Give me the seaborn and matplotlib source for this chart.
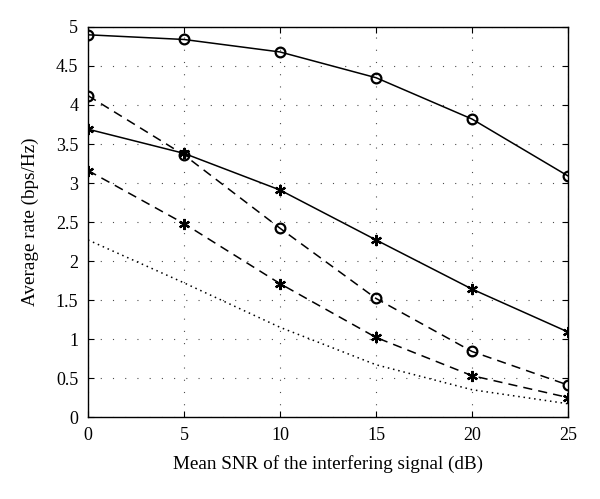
import matplotlib
matplotlib.use("Agg")
import matplotlib.pyplot as plt
import seaborn as sns
import pandas as pd

# Mean SNR of the interfering signal (dB)
snr = [0, 5, 10, 15, 20, 25]

# average rates (bps/Hz)
solid_circle = [4.90, 4.84, 4.68, 4.35, 3.82, 3.09]
dashed_circle = [4.12, 3.36, 2.42, 1.52, 0.84, 0.41]
solid_star = [3.69, 3.38, 2.91, 2.27, 1.64, 1.09]
dashed_star = [3.16, 2.48, 1.71, 1.02, 0.53, 0.25]
dotted = [2.27, 1.72, 1.15, 0.67, 0.35, 0.17]

x_ticks = [0, 5, 10, 15, 20, 25]
y_ticks = [0, 0.5, 1, 1.5, 2, 2.5, 3, 3.5, 4, 4.5, 5]
y_labels = ['0', '0.5', '1', '1.5', '2', '2.5', '3', '3.5', '4', '4.5', '5']

sns.set_style('ticks')
plt.rcParams['font.family'] = ['Liberation Serif', 'DejaVu Serif']
plt.rcParams['xtick.direction'] = 'in'
plt.rcParams['ytick.direction'] = 'in'
plt.rcParams['text.color'] = 'black'
plt.rcParams['axes.labelcolor'] = 'black'

fig = plt.figure(figsize=(6.0, 4.99), dpi=100)
ax = fig.add_axes([0.1467, 0.1643, 0.80, 0.7816])

asterisk = (6, 2, 0)
series = [
    (solid_circle, '-', 'o'),
    (dashed_circle, (0, (6, 4)), 'o'),
    (solid_star, '-', asterisk),
    (dashed_star, (0, (6, 4)), asterisk),
    (dotted, (0, (1, 2.5)), None),
]

for vals, ls, mk in series:
    df = pd.DataFrame({'snr': snr, 'rate': vals})
    sns.lineplot(data=df, x='snr', y='rate', ax=ax, color='black',
                 linewidth=1.1, linestyle=ls, marker=mk,
                 markersize=7 if mk == 'o' else 8,
                 markerfacecolor='none', markeredgecolor='black',
                 markeredgewidth=1.6)

ax.set_xlim(0, 25)
ax.set_ylim(0, 5)
ax.set_xticks(x_ticks)
ax.set_yticks(y_ticks)
ax.set_yticklabels(y_labels)
ax.grid(True, linestyle=(0, (1, 10)), color='black', linewidth=0.8, alpha=0.7)
ax.tick_params(axis='both', labelsize=13, length=4, width=0.8,
               top=True, right=True, pad=7, colors='black')
for sp in ax.spines.values():
    sp.set_visible(True)
    sp.set_linewidth(1.0)
    sp.set_color('black')

ax.set_xlabel('Mean SNR of the interfering signal (dB)', fontsize=13.8,
              labelpad=8, color='black')
ax.set_ylabel('Average rate (bps/Hz)', fontsize=13.8, labelpad=12,
              color='black')

fig.savefig('out.png', dpi=100)
